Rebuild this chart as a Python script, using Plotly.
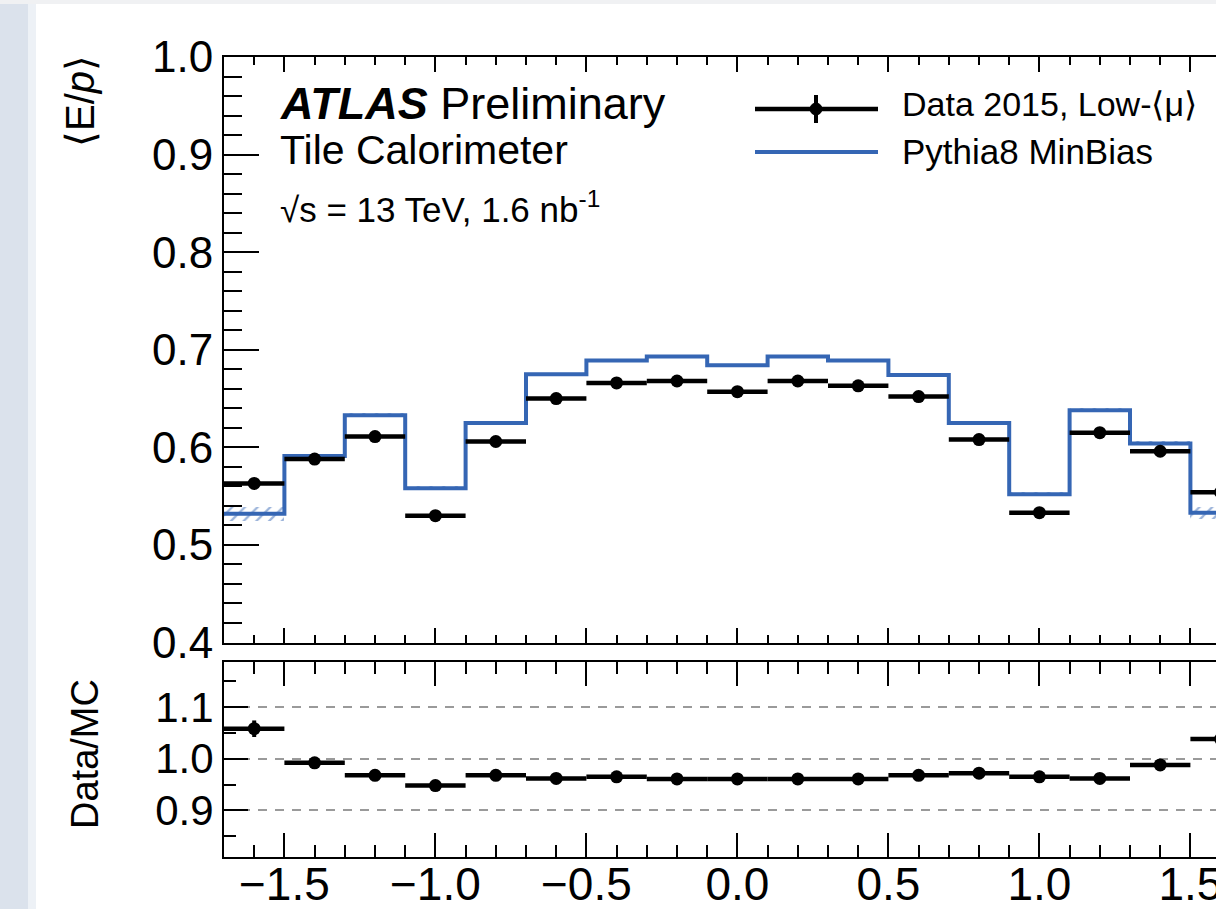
import plotly.graph_objects as go

# ---------------- data ----------------
bin_edges = [-1.7, -1.5, -1.3, -1.1, -0.9, -0.7, -0.5, -0.3, -0.1, 0.1, 0.3, 0.5, 0.7, 0.9, 1.1, 1.3, 1.5, 1.7]
bin_centers = [-1.6, -1.4, -1.2, -1.0, -0.8, -0.6, -0.4, -0.2, 0.0, 0.2, 0.4, 0.6, 0.8, 1.0, 1.2, 1.4, 1.6]
data_ep = [0.563, 0.588, 0.611, 0.530, 0.606, 0.650, 0.666, 0.668, 0.657, 0.668, 0.663, 0.652, 0.608, 0.533, 0.615, 0.596, 0.554]
data_err = [0.003, 0.002, 0.002, 0.002, 0.002, 0.002, 0.002, 0.002, 0.002, 0.002, 0.002, 0.002, 0.002, 0.002, 0.002, 0.002, 0.003]
mc_ep = [0.532, 0.591, 0.633, 0.558, 0.625, 0.675, 0.689, 0.693, 0.684, 0.693, 0.689, 0.674, 0.625, 0.552, 0.638, 0.604, 0.533]
mc_err = [0.007, 0.002, 0.002, 0.002, 0.002, 0.001, 0.001, 0.001, 0.001, 0.001, 0.001, 0.001, 0.002, 0.002, 0.002, 0.002, 0.006]
ratio = [1.058, 0.992, 0.968, 0.948, 0.968, 0.962, 0.965, 0.961, 0.961, 0.961, 0.961, 0.968, 0.972, 0.965, 0.962, 0.988, 1.038]
ratio_err = [0.016, 0.005, 0.005, 0.005, 0.005, 0.004, 0.004, 0.004, 0.004, 0.004, 0.004, 0.004, 0.005, 0.005, 0.005, 0.005, 0.014]
x_tick_vals = [-1.5, -1.0, -0.5, 0.0, 0.5, 1.0, 1.5]
x_tick_text = ["\u22121.5", "\u22121.0", "\u22120.5", "0.0", "0.5", "1.0", "1.5"]
top_tick_vals = [0.4, 0.5, 0.6, 0.7, 0.8, 0.9, 1.0]
ratio_tick_vals = [0.9, 1.0, 1.1]

# ---------------- style ----------------
BLUE = "#3566b4"
FONT = "Liberation Sans, Arial, Helvetica, sans-serif"
W, H = 1216, 909
L, R, T, B = 224, 0, 57, 52
PW, PH = W - L - R, H - T - B


def px(x):
    return (x - L) / PW


def py(y):
    return (H - B - y) / PH


def ax(**kw):
    d = dict(showline=True, linecolor="black", linewidth=2, ticks="inside",
             tickcolor="black", tickwidth=2, zeroline=False, showgrid=False,
             tickfont=dict(family=FONT, size=44, color="black"))
    d.update(kw)
    return d


def minor(dt, ln):
    return dict(dtick=dt, tick0=0, ticklen=ln, ticks="inside", tickcolor="black", tickwidth=2)


fig = go.Figure()

# MC uncertainty band (hatched)
fig.add_trace(go.Bar(
    x=bin_centers, y=[2 * e for e in mc_err], base=[v - e for v, e in zip(mc_ep, mc_err)],
    width=0.2, xaxis="x2", yaxis="y2",
    marker=dict(color="rgba(0,0,0,0)", line=dict(width=0),
                pattern=dict(shape="/", fgcolor=BLUE, bgcolor="rgba(0,0,0,0)", size=9, solidity=0.25)),
    showlegend=False, hoverinfo="skip"))

# MC step histogram
fig.add_trace(go.Scatter(
    x=bin_edges, y=mc_ep + [mc_ep[-1]], mode="lines", line=dict(color=BLUE, width=4, shape="hv"),
    xaxis="x2", yaxis="y2", showlegend=False))

# Data points
fig.add_trace(go.Scatter(
    x=bin_centers, y=data_ep, mode="markers", xaxis="x2", yaxis="y2",
    marker=dict(color="black", size=13),
    error_x=dict(type="constant", value=0.1, thickness=4.5, width=0, color="black"),
    error_y=dict(type="data", array=data_err, thickness=4, width=0, color="black"),
    showlegend=False))

# Ratio
fig.add_trace(go.Scatter(
    x=bin_centers, y=ratio, mode="markers", xaxis="x", yaxis="y",
    marker=dict(color="black", size=13),
    error_x=dict(type="constant", value=0.1, thickness=4.5, width=0, color="black"),
    error_y=dict(type="data", array=ratio_err, thickness=4, width=0, color="black"),
    showlegend=False))

xr = [-1.7, -1.7 + PW / 302.0]
top_dom = [py(642.5), 1.0]
bot_dom = [0.0, py(662)]

fig.update_layout(
    width=W, height=H, margin=dict(l=L, r=R, t=T, b=B, autoexpand=False),
    paper_bgcolor="white", plot_bgcolor="white", showlegend=False, bargap=0,
    xaxis=ax(tickfont=dict(family=FONT, size=46, color="black"),
             range=xr, domain=[0, 1], anchor="y", mirror="ticks",
             tickvals=x_tick_vals, ticktext=x_tick_text, ticklen=24,
             ticklabelstandoff=-14, ticklabeloverflow="allow",
             minor=minor(0.1, 12)),
    yaxis=ax(tickfont=dict(family=FONT, size=42, color="black"),
             range=[0.81, 1.187], domain=bot_dom, anchor="x", mirror=False,
             tickvals=ratio_tick_vals, ticktext=["0.9", "1.0", "1.1"], ticklen=24,
             showgrid=True, gridcolor="#9a9a9a", gridwidth=2, griddash="9px,8px",
             minor=minor(0.05, 12)),
    xaxis2=ax(range=xr, domain=[0, 1], anchor="y2", matches="x", mirror="ticks",
              tickvals=x_tick_vals, showticklabels=False, ticklen=15,
              minor=minor(0.1, 8)),
    yaxis2=ax(range=[0.4, 1.0], domain=top_dom, anchor="x2", mirror=False,
              tickvals=top_tick_vals, tickformat=".1f", ticklen=35,
              minor=minor(0.02, 18)),
)

shapes = []
# slide background strips (left blurred edge, top edge)
shapes.append(dict(type="rect", xref="paper", yref="paper", x0=px(0), x1=px(28), y0=py(H), y1=py(0),
                   fillcolor="#dbe2ec", line=dict(width=0), layer="below"))
shapes.append(dict(type="rect", xref="paper", yref="paper", x0=px(28), x1=px(36), y0=py(H), y1=py(0),
                   fillcolor="#edf1f6", line=dict(width=0), layer="below"))
shapes.append(dict(type="rect", xref="paper", yref="paper", x0=px(0), x1=px(W), y0=py(4), y1=py(0),
                   fillcolor="#f0f1f3", line=dict(width=0), layer="below"))
# legend samples
shapes.append(dict(type="line", xref="paper", yref="paper", x0=px(755), x1=px(878), y0=py(109), y1=py(109),
                   line=dict(color="black", width=4.5)))
shapes.append(dict(type="line", xref="paper", yref="paper", x0=px(816), x1=px(816), y0=py(95), y1=py(123),
                   line=dict(color="black", width=4)))
shapes.append(dict(type="circle", xref="paper", yref="paper", x0=px(810), x1=px(822), y0=py(115), y1=py(103),
                   fillcolor="black", line=dict(color="black", width=1)))
shapes.append(dict(type="line", xref="paper", yref="paper", x0=px(755), x1=px(878), y0=py(152), y1=py(152),
                   line=dict(color=BLUE, width=4)))
fig.update_layout(shapes=shapes)

ann = []
ann.append(dict(xref="paper", yref="paper", x=px(80), y=py(101), text="\u27e8E/<i>p</i>\u27e9",
                textangle=-90, showarrow=False, xanchor="center", yanchor="middle",
                font=dict(family=FONT, size=40, color="black")))
ann.append(dict(xref="paper", yref="paper", x=px(85), y=py(754), text="Data/MC",
                textangle=-90, showarrow=False, xanchor="center", yanchor="middle",
                font=dict(family=FONT, size=38, color="black")))
ann.append(dict(xref="paper", yref="paper", x=px(278), y=py(104), text="<b><i>ATLAS</i></b> Preliminary",
                showarrow=False, xanchor="left", yanchor="middle",
                font=dict(family=FONT, size=45, color="black")))
ann.append(dict(xref="paper", yref="paper", x=px(278), y=py(150), text="Tile Calorimeter",
                showarrow=False, xanchor="left", yanchor="middle",
                font=dict(family=FONT, size=41, color="black")))
ann.append(dict(xref="paper", yref="paper", x=px(278), y=py(207), text="\u221as = 13 TeV, 1.6 nb<sup>-1</sup>",
                showarrow=False, xanchor="left", yanchor="middle",
                font=dict(family=FONT, size=35, color="black")))
ann.append(dict(xref="paper", yref="paper", x=px(900), y=py(104), text="Data 2015, Low-\u27e8\u03bc\u27e9",
                showarrow=False, xanchor="left", yanchor="middle",
                font=dict(family=FONT, size=34, color="black")))
ann.append(dict(xref="paper", yref="paper", x=px(900), y=py(151), text="Pythia8 MinBias",
                showarrow=False, xanchor="left", yanchor="middle",
                font=dict(family=FONT, size=35, color="black")))
fig.update_layout(annotations=ann)

fig.write_html("out.html")
